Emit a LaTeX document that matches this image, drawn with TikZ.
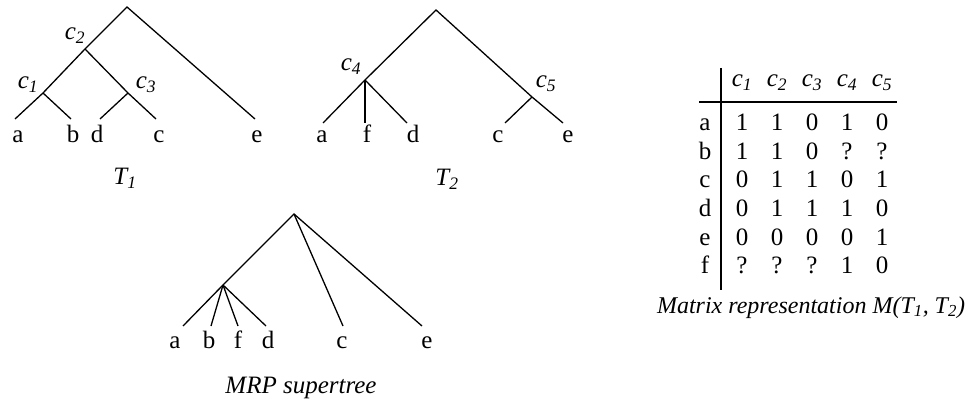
\documentclass[tikz,border=0pt]{standalone}
\usepackage{fontspec}
\setmainfont{Liberation Serif}
\begin{document}
\begin{tikzpicture}[x=1pt,y=-1pt,
  edge/.style={line width=1.3pt},
  lbl/.style={anchor=base,inner sep=0pt,font=\fontsize{25}{30}\selectfont},
  ilbl/.style={lbl,font=\fontsize{25}{30}\selectfont\itshape}]
\useasboundingbox (0,0) rectangle (976,403);
% ---------- T1 ----------
\coordinate (r1) at (127,7);
\coordinate (n2) at (85,49);
\coordinate (n1) at (43,93);
\coordinate (n3) at (128,93);
\coordinate (la1) at (15,119);
\coordinate (lb1) at (71,119);
\coordinate (ld1) at (100,119);
\coordinate (lc1) at (156,119);
\coordinate (le1) at (255,119);
\draw[edge] (la1) -- (n1) -- (n2) -- (r1) -- (le1);
\draw[edge] (n1) -- (lb1);
\draw[edge] (n2) -- (n3) -- (lc1);
\draw[edge] (n3) -- (ld1);
\node[lbl] (ta1) at (18,143) {a};
\node[lbl] (tb1) at (73,143) {b};
\node[lbl] (td1) at (97,143) {d};
\node[lbl] (tc1) at (159,143) {c};
\node[lbl] (te1) at (257,143) {e};
\node[ilbl] (c2l) at (75,40) {c\textsubscript{2}};
\node[ilbl] (c1l) at (28,89) {c\textsubscript{1}};
\node[ilbl] (c3l) at (146,89) {c\textsubscript{3}};
\node[ilbl] (T1) at (125,185) {T\textsubscript{1}};
% ---------- T2 ----------
\coordinate (r2) at (436,10);
\coordinate (n4) at (365,80);
\coordinate (n5) at (532,97);
\coordinate (la2) at (323,123);
\coordinate (lf2) at (365,123);
\coordinate (ld2) at (407,123);
\coordinate (lc2) at (505,123);
\coordinate (le2) at (563,123);
\draw[edge] (la2) -- (n4) -- (r2) -- (n5) -- (le2);
\draw[edge] (n4) -- (lf2);
\draw[edge] (n4) -- (ld2);
\draw[edge] (n5) -- (lc2);
\node[lbl] (ta2) at (322,143) {a};
\node[lbl] (tf2) at (367,143) {f};
\node[lbl] (td2) at (413,143) {d};
\node[lbl] (tc2) at (498,143) {c};
\node[lbl] (te2) at (568,143) {e};
\node[ilbl] (c4l) at (351,71) {c\textsubscript{4}};
\node[ilbl] (c5l) at (546,88) {c\textsubscript{5}};
\node[ilbl] (T2) at (447,186) {T\textsubscript{2}};
% ---------- MRP ----------
\coordinate (r3) at (294,214);
\coordinate (n6) at (223,285);
\coordinate (la3) at (183,326);
\coordinate (lb3) at (211,326);
\coordinate (lf3) at (238,326);
\coordinate (ld3) at (266,326);
\coordinate (lc3) at (343,326);
\coordinate (le3) at (422,326);
\draw[edge] (la3) -- (n6) -- (r3) -- (le3);
\draw[edge] (r3) -- (lc3);
\draw[edge] (n6) -- (lb3);
\draw[edge] (n6) -- (lf3);
\draw[edge] (n6) -- (ld3);
\node[lbl] (ta3) at (175,348) {a};
\node[lbl] (tb3) at (209,348) {b};
\node[lbl] (tf3) at (238,348) {f};
\node[lbl] (td3) at (268,348) {d};
\node[lbl] (tc3) at (342,348) {c};
\node[lbl] (te3) at (427,348) {e};
\node[ilbl] (mrp) at (301,393) {MRP supertree};
% ---------- Matrix ----------
\coordinate (vt) at (721,68);
\coordinate (vb) at (721,290);
\coordinate (hl) at (699,102);
\coordinate (hr) at (897,102);
\draw[line width=1.1pt] (vt) -- (vb);
\draw[line width=1.1pt] (hl) -- (hr);
\foreach \i/\x in {1/742,2/777,3/812,4/847,5/882}
  \node[ilbl] (h\i) at (\x,87) {c\textsubscript{\i}};
\foreach \r/\y/\vals in {a/131/{1,1,0,1,0},b/159.5/{1,1,0,?,?},c/188/{0,1,1,0,1},d/216.5/{0,1,1,1,0},e/245/{0,0,0,0,1},f/273.5/{?,?,?,1,0}}{
  \node[lbl] (row-\r) at (705,\y) {\r};
  \foreach \v [count=\k] in \vals {
    \pgfmathsetmacro{\xx}{707+35*\k}
    \node[lbl] (m-\r-\k) at (\xx,\y) {\v};
  }
}
\node[ilbl,font=\fontsize{24}{29}\selectfont\itshape] (cap) at (811,313) {Matrix representation M(T\textsubscript{1}, T\textsubscript{2})};
\end{tikzpicture}
\end{document}
